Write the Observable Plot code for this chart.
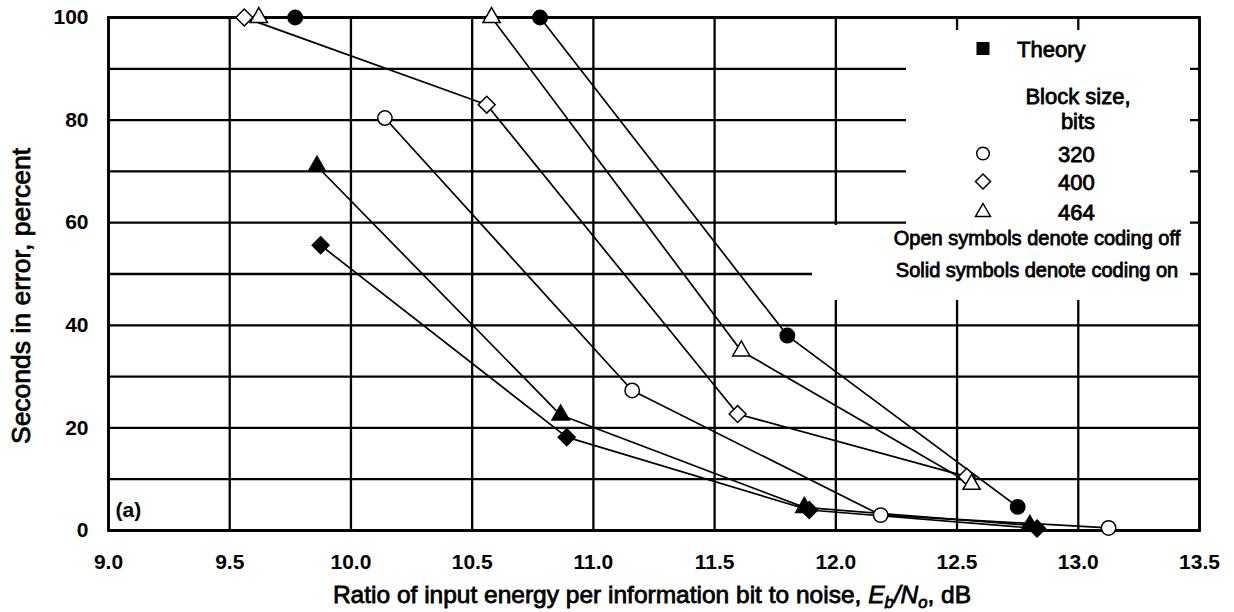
<!DOCTYPE html>
<html>
<head>
<meta charset="utf-8">
<script src="https://cdn.jsdelivr.net/npm/d3@7"></script>
<script src="https://cdn.jsdelivr.net/npm/@observablehq/plot@0.6"></script>
<style>
  html, body { margin: 0; padding: 0; background: #fff; overflow: hidden; }
  #wrap { position: relative; width: 1234px; height: 612px; font-family: "Liberation Sans", Arial, Helvetica, sans-serif; font-weight: normal; color: #000; }
  .abs { position: absolute; white-space: nowrap; line-height: 1; -webkit-text-stroke: 0.8px black; }
  .box { position: absolute; background: #fff; }
  .lg { font-size: 22px; }
  .lg2 { font-size: 20px; }
  .c { transform: translate(-50%, -50%); }
  .l { transform: translate(0, -50%); }
  sub { font-size: 0.68em; vertical-align: -0.3em; line-height: 0; }
</style>
</head>
<body>
<div id="wrap"></div>
<script>
// ---- tick values ----
const xTicks = [9.0, 9.5, 10.0, 10.5, 11.0, 11.5, 12.0, 12.5, 13.0, 13.5];
const yTicks = [0, 20, 40, 60, 80, 100];
const yGridValues = [0, 10, 20, 30, 40, 50, 60, 70, 80, 90, 100];

// ---- series: Eb/No (dB) and seconds in error (percent) ----
// open symbols: coding off
const ebno320Off = [10.14, 11.16, 12.185, 13.125];
const sec320Off  = [80.4, 27.3, 3.0, 0.5];
const ebno400Off = [9.56, 10.56, 11.595, 12.54];
const sec400Off  = [100, 83, 22.7, 10.5];
const ebno464Off = [9.62, 10.58, 11.61, 12.56];
const sec464Off  = [100, 100, 35, 9];
// solid symbols: coding on
const ebno320On = [9.77, 10.78, 11.80, 12.75];
const sec320On  = [100, 100, 38, 4.6];
const ebno400On = [9.875, 10.89, 11.89, 12.83];
const sec400On  = [55.6, 18.2, 4, 0.4];
const ebno464On = [9.86, 10.865, 11.87, 12.80];
const sec464On  = [71, 22.5, 4.5, 1];

const seriesList = [
  {name: "320 off", xs: ebno320Off, ys: sec320Off, shape: "circle", solid: false},
  {name: "400 off", xs: ebno400Off, ys: sec400Off, shape: "diamond2", solid: false},
  {name: "464 off", xs: ebno464Off, ys: sec464Off, shape: "triangle", solid: false},
  {name: "320 on",  xs: ebno320On,  ys: sec320On,  shape: "circle", solid: true},
  {name: "400 on",  xs: ebno400On,  ys: sec400On,  shape: "diamond2", solid: true},
  {name: "464 on",  xs: ebno464On,  ys: sec464On,  shape: "triangle", solid: true}
];
const rows = seriesList.flatMap(s => s.xs.map((x, i) => ({x, y: s.ys[i], series: s.name, shape: s.shape, solid: s.solid})));

const symR = {circle: 7.2, diamond2: 7.6, triangle: 6.4};
const dotMarks = Object.keys(symR).map(shape =>
  Plot.dot(rows.filter(d => d.shape === shape), {
    x: "x", y: "y", symbol: shape, r: symR[shape],
    fill: d => d.solid ? "black" : "white", stroke: "black", strokeWidth: 1.5
  })
);

const chart = Plot.plot({
  width: 1234,
  height: 575,
  marginLeft: 108,
  marginRight: 35,
  marginTop: 17,
  marginBottom: 45,
  style: {fontFamily: '"Liberation Sans", Arial, Helvetica, sans-serif', fontSize: "21px", fontWeight: "bold", color: "black", background: "white"},
  x: {domain: [9, 13.5]},
  y: {domain: [0, 100]},
  marks: [
    Plot.gridX(xTicks, {stroke: "black", strokeOpacity: 1, strokeWidth: 2.3}),
    Plot.gridY(yGridValues, {stroke: "black", strokeOpacity: 1, strokeWidth: 2.3}),
    Plot.frame({stroke: "black", strokeWidth: 2.8}),
    Plot.axisX({ticks: xTicks, tickFormat: d => d.toFixed(1), tickSize: 0, tickPadding: 24, label: null}),
    Plot.axisY({ticks: yTicks, tickFormat: d => String(d), tickSize: 0, tickPadding: 20, label: null}),
    Plot.line(rows, {x: "x", y: "y", z: "series", stroke: "black", strokeWidth: 1.7}),
    ...dotMarks,
    Plot.text(["(a)"], {frameAnchor: "bottom-left", textAnchor: "start", lineAnchor: "middle", dx: 7, dy: -20, fontSize: 21, fontWeight: "bold", fill: "black"})
  ]
});

const wrap = document.getElementById("wrap");
wrap.appendChild(chart);

function add(html, cls, left, top) {
  const d = document.createElement("div");
  d.className = cls;
  d.style.left = left + "px";
  d.style.top = top + "px";
  d.innerHTML = html;
  wrap.appendChild(d);
  return d;
}
function box(left, top, w, h) {
  const d = document.createElement("div");
  d.className = "box";
  Object.assign(d.style, {left: left + "px", top: top + "px", width: w + "px", height: h + "px"});
  wrap.appendChild(d);
}

// legend background (covers the grid as in the original)
box(906, 30, 284, 196);
box(812, 225, 378, 75);

// legend symbols
const sq = '<svg width="16" height="16" viewBox="-8 -8 16 16"><rect x="-6.5" y="-6.5" width="13" height="13" fill="black"/></svg>';
const ci = '<svg width="18" height="18" viewBox="-9 -9 18 18"><circle r="6.3" fill="white" stroke="black" stroke-width="1.5"/></svg>';
const di = '<svg width="20" height="20" viewBox="-10 -10 20 20"><path d="M0,-7.5L7.5,0L0,7.5L-7.5,0Z" fill="white" stroke="black" stroke-width="1.5"/></svg>';
const tr = '<svg width="20" height="20" viewBox="-10 -10 20 20"><path d="M0,-7L7.5,6L-7.5,6Z" fill="white" stroke="black" stroke-width="1.5"/></svg>';

add(sq, "abs c", 983, 50);
add("Theory", "abs l lg", 1017, 50);
add("Block size,", "abs c lg", 1078, 97);
add("bits", "abs c lg", 1078, 122);
add(ci, "abs c", 983, 155);
add("320", "abs l lg", 1058, 155);
add(di, "abs c", 983, 183);
add("400", "abs l lg", 1058, 183);
add(tr, "abs c", 983, 212);
add("464", "abs l lg", 1058, 213);
add("Open symbols denote coding off", "abs c lg2", 1037, 238);
add("Solid symbols denote coding on", "abs c lg2", 1037, 270);

// axis titles
const yt = add("Seconds in error, percent", "abs", 21, 296);
yt.style.fontSize = "26.5px";
yt.style.transform = "translate(-50%, -50%) rotate(-90deg)";
const xt = add('Ratio of input energy per information bit to noise, <i>E<sub>b</sub>/N<sub>o</sub></i>, dB', "abs c", 652, 595);
xt.style.fontSize = "24.5px";
</script>
</body>
</html>
